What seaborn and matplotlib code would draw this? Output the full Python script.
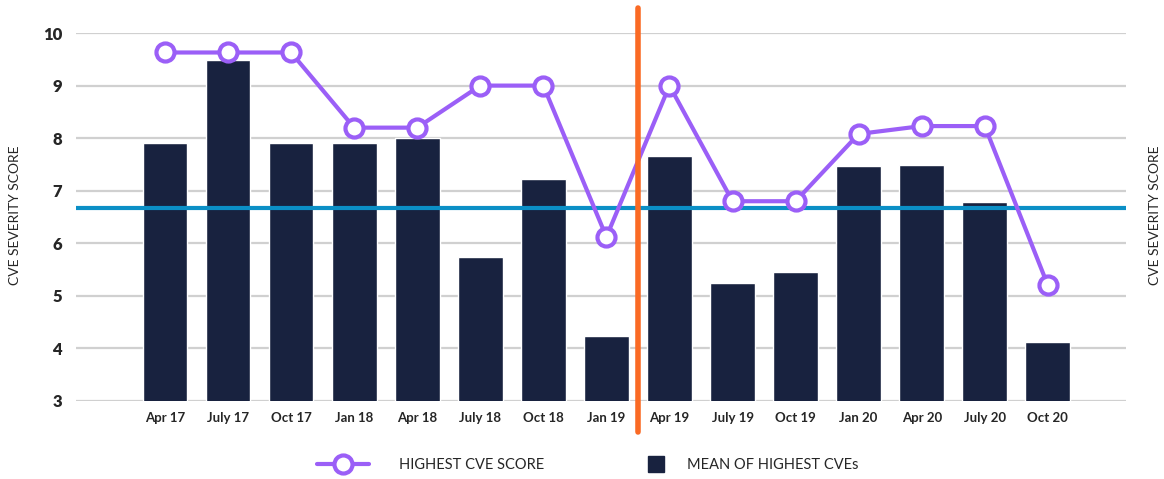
import matplotlib
matplotlib.use("Agg")
import matplotlib.pyplot as plt
import seaborn as sns
import pandas as pd
from matplotlib.lines import Line2D

# quarters on the x axis
months = ["Apr 17", "July 17", "Oct 17", "Jan 18", "Apr 18", "July 18", "Oct 18", "Jan 19",
          "Apr 19", "July 19", "Oct 19", "Jan 20", "Apr 20", "July 20", "Oct 20"]
# mean of highest CVEs (bars)
mean_highest = [7.9, 9.48, 7.9, 7.9, 8.0, 5.74, 7.22, 4.24, 7.66, 5.24, 5.45, 7.47, 7.49, 6.79, 4.12]
# highest CVE score (line)
highest_score = [9.63, 9.63, 9.63, 8.2, 8.2, 9.0, 9.0, 6.12, 9.0, 6.8, 6.8, 8.08, 8.23, 8.23, 5.2]
average_level = 6.67
split_between = ("Jan 19", "Apr 19")

BAR = "#18223f"
PURPLE = "#9b5ff7"
BLUE = "#0b8fc6"
ORANGE = "#fa6a24"

df = pd.DataFrame({"month": months, "mean": mean_highest, "highest": highest_score})

sns.set_style("white")
plt.rcParams["font.family"] = ["Lato", "DejaVu Sans"]

fig = plt.figure(figsize=(11.64, 4.79), dpi=100)
ax = fig.add_axes([0.0653, 0.163, 0.9021, 0.768])

ax.yaxis.grid(True, color="#d0d0d0", linewidth=1.6, zorder=0)
ax.set_axisbelow(True)

sns.barplot(data=df, x="month", y="mean", color=BAR, width=0.71, saturation=1, ax=ax, zorder=2)

ax.axhline(average_level, color=BLUE, linewidth=3, zorder=3)

sns.pointplot(data=df, x="month", y="highest", color=PURPLE, markers="o", linestyles="-",
              markerfacecolor="white", markeredgecolor=PURPLE, markeredgewidth=3,
              markersize=13, linewidth=3, ax=ax, zorder=4)

# orange divider between Jan 19 and Apr 19
xsplit = (months.index(split_between[0]) + months.index(split_between[1])) / 2
ax.plot([xsplit, xsplit], [2.41, 10.47], color=ORANGE, linewidth=4,
        solid_capstyle="round", clip_on=False, zorder=6)

ax.set_ylim(3, 10)
ax.set_xlim(-1.41, 15.24)
ax.set_yticks(range(3, 11))
for s in ax.spines.values():
    s.set_visible(False)
ax.tick_params(axis="both", length=0)
ax.tick_params(axis="x", pad=8)
ax.tick_params(axis="y", pad=10)
for lab in ax.get_xticklabels():
    lab.set_fontweight("bold")
    lab.set_fontsize(9.5)
for lab in ax.get_yticklabels():
    lab.set_fontweight("heavy")
    lab.set_fontsize(12)
ax.set_xlabel("")
ax.set_ylabel("")

fig.text(0.013, 0.55, "CVE SEVERITY SCORE", rotation=90, ha="center", va="center", fontsize=10)
fig.text(0.992, 0.55, "CVE SEVERITY SCORE", rotation=90, ha="center", va="center", fontsize=10)

line_handle = Line2D([0], [0], color=PURPLE, linewidth=3, marker="o", markersize=13,
                     markerfacecolor="white", markeredgecolor=PURPLE, markeredgewidth=3)
bar_handle = Line2D([0], [0], color=BAR, linewidth=0, marker="s", markersize=12)

leg1 = fig.legend([line_handle], ["HIGHEST CVE SCORE"], loc="center left",
                  bbox_to_anchor=(0.2723, 0.03), frameon=False, fontsize=10.5,
                  handlelength=3.6, handletextpad=2.0, borderpad=0, borderaxespad=0)
fig.legend([bar_handle], ["MEAN OF HIGHEST CVEs"], loc="center left",
           bbox_to_anchor=(0.5567, 0.03), frameon=False, fontsize=10.5,
           handlelength=1.1, handletextpad=1.6, borderpad=0, borderaxespad=0)

fig.savefig("out.png", dpi=100)
